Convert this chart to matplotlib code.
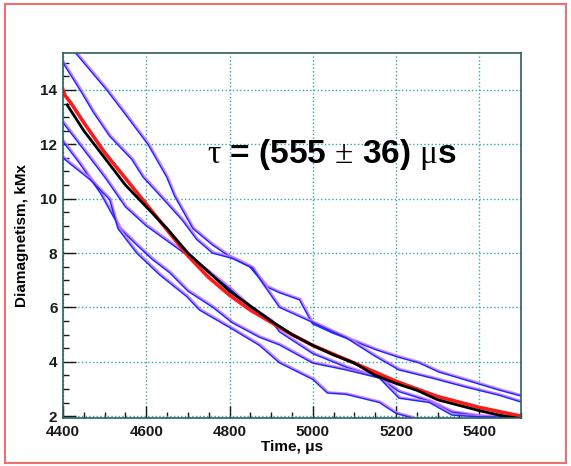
import matplotlib
matplotlib.use("Agg")
import matplotlib.pyplot as plt
import matplotlib.patheffects as pe
from matplotlib.patches import Rectangle
from matplotlib.ticker import MultipleLocator

plt.rcParams['font.family'] = ['Liberation Sans', 'DejaVu Sans']
plt.rcParams['mathtext.fontset'] = 'custom'
plt.rcParams['mathtext.rm'] = 'Liberation Serif'

# fitted curve (black)
fit_t = [4410, 4450, 4500, 4550, 4600, 4650, 4700, 4750, 4800, 4850, 4900, 4950,
         5000, 5050, 5100, 5150, 5200, 5250, 5300, 5350, 5400, 5450, 5500]
fit_v = [13.45, 12.5, 11.5, 10.5, 9.7, 8.9, 8.0, 7.3, 6.6, 6.05, 5.5, 5.0,
         4.6, 4.25, 3.95, 3.5, 3.2, 2.95, 2.6, 2.4, 2.2, 2.03, 1.9]

# averaged signal (red)
avg_t = [4400, 4405, 4420, 4450, 4500, 4550, 4600, 4650, 4700, 4750, 4800, 4850,
         4900, 4950, 5000, 5100, 5200, 5300, 5400, 5500]
avg_v = [14.0, 13.8, 13.5, 12.8, 11.7, 10.75, 9.8, 8.85, 7.9, 7.1, 6.45, 5.9,
         5.45, 5.0, 4.6, 3.95, 3.28, 2.72, 2.32, 2.0]

# individual shots (blue)
s1_t = [4428, 4450, 4505, 4550, 4604, 4649, 4668, 4712, 4759, 4800, 4848, 4889,
        4920, 4968, 4999, 5047, 5104, 5150, 5207, 5255, 5303, 5367, 5447, 5500]
s1_v = [15.4, 15.0, 14.0, 13.1, 12.0, 10.8, 10.1, 8.9, 8.3, 7.87, 7.5, 6.76,
        6.54, 6.28, 5.4, 5.06, 4.73, 4.45, 4.16, 3.96, 3.62, 3.33, 2.96, 2.74]

s2_t = [4400, 4441, 4472, 4512, 4565, 4592, 4640, 4687, 4721, 4759, 4807, 4855,
        4879, 4920, 4992, 5080, 5150, 5207, 5286, 5367, 5447, 5500]
s2_v = [15.0, 14.0, 13.2, 12.3, 11.45, 10.8, 10.0, 9.2, 8.5, 8.0, 7.8, 7.45,
        6.9, 6.0, 5.5, 4.88, 4.2, 3.70, 3.40, 3.07, 2.77, 2.52]

s3_t = [4400, 4450, 4500, 4550, 4600, 4650, 4700, 4750, 4800, 4850, 4900, 4920,
        5000, 5080, 5160, 5207, 5280, 5334, 5400, 5500]
s3_v = [12.8, 11.8, 10.8, 9.7, 9.0, 8.45, 7.9, 7.3, 6.7, 6.0, 5.5, 5.1,
        4.3, 3.8, 3.4, 2.9, 2.55, 2.15, 2.0, 1.95]

s4_t = [4400, 4440, 4490, 4537, 4577, 4615, 4656, 4700, 4760, 4807, 4872, 4920,
        5000, 5080, 5160, 5207, 5280, 5334, 5400, 5500]
s4_v = [12.1, 11.3, 10.2, 8.9, 8.3, 7.76, 7.28, 6.6, 6.0, 5.43, 4.9, 4.62,
        3.95, 3.7, 3.4, 2.66, 2.5, 2.04, 1.97, 1.95]

s5_t = [4400, 4424, 4465, 4512, 4532, 4577, 4632, 4697, 4728, 4807, 4872, 4920,
        5000, 5035, 5080, 5160, 5200, 5240]
s5_v = [11.5, 11.2, 10.7, 9.97, 8.9, 8.0, 7.2, 6.4, 5.9, 5.2, 4.6, 3.96,
        3.35, 2.85, 2.8, 2.5, 2.1, 1.93]

shots = [(s1_t, s1_v), (s2_t, s2_v), (s3_t, s3_v), (s4_t, s4_v), (s5_t, s5_v)]

fig = plt.figure(figsize=(5.71, 4.66), dpi=100)
fig.patches.append(Rectangle((5 / 571, 3 / 466), 561 / 571, 459 / 466,
                             transform=fig.transFigure, fill=False,
                             edgecolor='#f07070', linewidth=1.5))
ax = fig.add_axes([63 / 571, 48 / 466, 458 / 571, 365 / 466])

shadow = [pe.SimpleLineShadow(offset=(0.8, 0.8), shadow_color='#d070ff', alpha=0.9), pe.Normal()]
for t, v in shots:
    ax.plot(t, v, color='#1a2aff', lw=1.1, path_effects=shadow)

ax.plot(avg_t, avg_v, color='#ff1a1a', lw=2.6)
ax.plot(fit_t, fit_v, color='black', lw=2.0)

ax.set_xlim(4400, 5500)
ax.set_ylim(1.93, 15.36)
ax.xaxis.set_major_locator(MultipleLocator(200))
ax.xaxis.set_minor_locator(MultipleLocator(50))
ax.yaxis.set_major_locator(MultipleLocator(2))
ax.yaxis.set_minor_locator(MultipleLocator(0.5))
ax.tick_params(which='both', direction='in', colors='#1a1a1a', width=1.0)
ax.tick_params(which='major', length=9, labelsize=11)
ax.tick_params(axis='x', which='major', pad=5)
ax.tick_params(axis='y', which='major', pad=4)
ax.tick_params(which='minor', length=4)
for lab in ax.get_xticklabels() + ax.get_yticklabels():
    lab.set_fontweight('bold')
ax.grid(True, which='major', color='#30a8a8', linestyle=':', linewidth=1.0)
for s in ax.spines.values():
    s.set_color('#2f5f5f')
    s.set_linewidth(1.2)

ax.set_xlabel('Time, \u03bcs', fontsize=11, fontweight='bold', labelpad=1)
ax.set_ylabel('Diamagnetism, kMx', fontsize=11, fontweight='bold', labelpad=8)

ax.text(0.586, 0.723, r'$\mathrm{\tau}$ = (555 $\mathrm{\pm}$ 36) $\mathrm{\mu}$s',
        transform=ax.transAxes, ha='center', va='center',
        fontsize=24, fontweight='bold')

fig.savefig('out.png', dpi=100)
